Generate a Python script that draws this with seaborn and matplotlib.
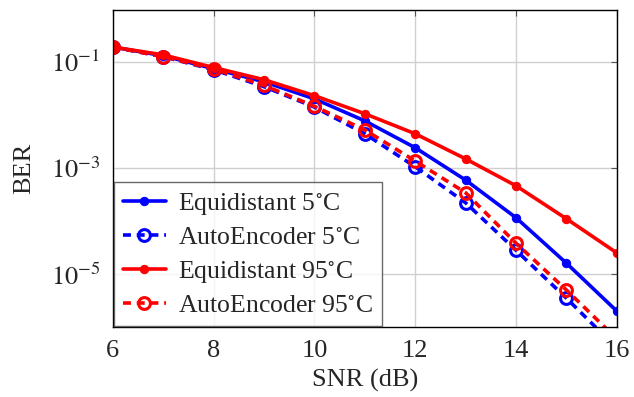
import matplotlib
matplotlib.use("Agg")
import matplotlib.pyplot as plt
import seaborn as sns
import pandas as pd
import numpy as np

snr = [6, 7, 8, 9, 10, 11, 12, 13, 14, 15, 16]
eq_5 = [0.19, 0.13, 0.074, 0.042, 0.020, 0.0077, 0.0024, 5.9e-4, 1.15e-4, 1.6e-5, 2.0e-6]
ae_5 = [0.19, 0.125, 0.071, 0.034, 0.014, 0.0044, 1.05e-3, 2.2e-4, 2.8e-5, 3.5e-6, 4.0e-7]
eq_95 = [0.19, 0.135, 0.078, 0.046, 0.023, 0.0105, 0.0044, 1.48e-3, 4.6e-4, 1.1e-4, 2.5e-5]
ae_95 = [0.19, 0.125, 0.073, 0.036, 0.0145, 0.0052, 1.35e-3, 3.4e-4, 3.8e-5, 5.0e-6, 6.0e-7]
labels = ["Equidistant 5$^{\\circ}$C", "AutoEncoder 5$^{\\circ}$C",
          "Equidistant 95$^{\\circ}$C", "AutoEncoder 95$^{\\circ}$C"]

sns.set_style("white")
plt.rcParams['font.family'] = ['Liberation Serif', 'DejaVu Serif']
plt.rcParams['mathtext.fontset'] = 'stix'

df = pd.DataFrame({"SNR": snr * 4,
                   "BER": eq_5 + ae_5 + eq_95 + ae_95,
                   "series": sum([[l] * len(snr) for l in labels], [])})

styles = {
    labels[0]: dict(color="#0000ff", linestyle="-", marker="o", markersize=6,
                    markerfacecolor="#0000ff", markeredgecolor="#0000ff"),
    labels[1]: dict(color="#0000ff", linestyle=(0, (2.2, 1.6)), marker="o", markersize=8.5,
                    markerfacecolor="none", markeredgecolor="#0000ff", markeredgewidth=2.2),
    labels[2]: dict(color="#ff0000", linestyle="-", marker="o", markersize=6,
                    markerfacecolor="#ff0000", markeredgecolor="#ff0000"),
    labels[3]: dict(color="#ff0000", linestyle=(0, (2.2, 1.6)), marker="o", markersize=8.5,
                    markerfacecolor="none", markeredgecolor="#ff0000", markeredgewidth=2.2),
}

fig, ax = plt.subplots(figsize=(6.34, 3.97), dpi=100)
for lab in labels:
    sub = df[df["series"] == lab]
    sns.lineplot(data=sub, x="SNR", y="BER", ax=ax, label=lab, linewidth=2.6, **styles[lab])

ax.set_yscale("log")
ax.set_xlim(6, 16)
ax.set_ylim(1e-6, 0.95)
ax.set_xticks([6, 8, 10, 12, 14, 16])
ax.set_yticks([1e-1, 1e-3, 1e-5])
ax.yaxis.set_minor_locator(matplotlib.ticker.NullLocator())
ax.set_yticklabels(["$10^{-1}$", "$10^{-3}$", "$10^{-5}$"])
ax.tick_params(axis="both", labelsize=19, direction="in", length=4, color="#555555",
               top=True, right=True)
ax.tick_params(axis="x", pad=9)
ax.tick_params(axis="y", pad=9)
ax.grid(True, color="#d0d0d0", linewidth=1)
for s in ax.spines.values():
    s.set_color("black")
    s.set_linewidth(1)
ax.set_xlabel("SNR (dB)", fontsize=19, labelpad=5)
ax.set_ylabel("BER", fontsize=19, labelpad=11)

leg = ax.legend(loc="lower left", fontsize=18.5, frameon=True, fancybox=False,
                edgecolor="#444444", borderaxespad=0.05, handlelength=1.65,
                labelspacing=0.36, borderpad=0.35, handletextpad=0.5)
leg.get_frame().set_linewidth(1)

fig.subplots_adjust(left=0.178, right=0.973, top=0.975, bottom=0.176)
fig.savefig("out.png", dpi=100)
